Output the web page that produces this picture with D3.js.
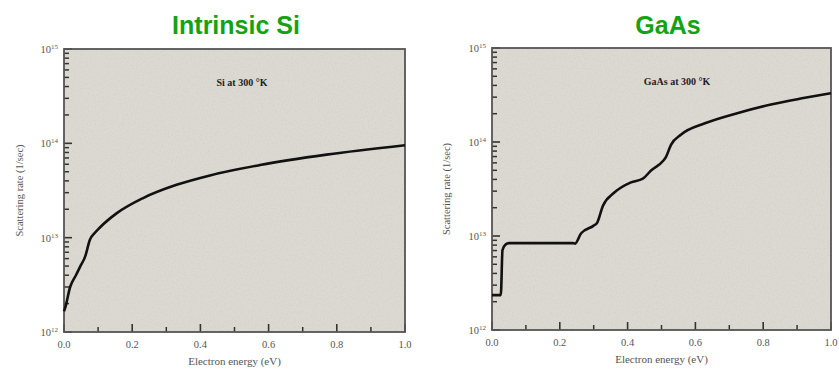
<!DOCTYPE html>
<html>
<head>
<meta charset="utf-8">
<script src="https://cdn.jsdelivr.net/npm/d3@7"></script>
<style>
  body { margin: 0; background: #fff; }
  svg { display: block; }
  .tick-label { font-family: "Liberation Serif", "DejaVu Serif", serif; fill: #555; }
  .title { font-family: "Liberation Sans", Arial, sans-serif; font-weight: bold; fill: #12a312; }
</style>
</head>
<body>
<div id="chart"></div>
<script>
// x axis (electron energy, eV)
const energyTicks = [0, 0.2, 0.4, 0.6, 0.8, 1.0];
const energyMinor = [0.1, 0.3, 0.5, 0.7, 0.9];
// y axis (scattering rate, 1/sec)
const rateTicks = [1e12, 1e13, 1e14, 1e15];
const rateExp = ["12", "13", "14", "15"];

// Si at 300 K
const siEnergy = [0, 0.003, 0.018, 0.035, 0.047, 0.062, 0.076, 0.09, 0.106, 0.155, 0.232, 0.33, 0.428, 0.575, 0.77, 1.0];
const siRate = [1.66e12, 1.78e12, 3.0e12, 4.0e12, 4.9e12, 6.3e12, 9.5e12, 1.12e13, 1.29e13, 1.82e13, 2.63e13, 3.63e13, 4.57e13, 5.89e13, 7.59e13, 9.55e13];

// GaAs at 300 K
const gaasEnergy = [0, 0.026, 0.031, 0.04, 0.05, 0.24, 0.245, 0.263, 0.30, 0.31, 0.327, 0.36, 0.41, 0.445, 0.47, 0.505, 0.513, 0.528, 0.558, 0.628, 0.726, 0.823, 0.923, 1.0];
const gaasRate = [2.35e12, 2.35e12, 7.1e12, 8.1e12, 8.4e12, 8.4e12, 8.3e12, 1.07e13, 1.29e13, 1.38e13, 2.09e13, 2.88e13, 3.72e13, 4.07e13, 5.01e13, 6.31e13, 6.92e13, 9.33e13, 1.2e14, 1.58e14, 2.04e14, 2.51e14, 2.95e14, 3.31e14];

const width = 839, height = 373;

const svg = d3.select('#chart').append('svg')
  .attr('width', width)
  .attr('height', height);

// grainy scanned look for plot areas
const defs = svg.append('defs');
const grain = defs.append('filter').attr('id', 'grain').attr('x', 0).attr('y', 0).attr('width', 1).attr('height', 1);
grain.append('feTurbulence').attr('type', 'fractalNoise').attr('baseFrequency', 0.6).attr('numOctaves', 2).attr('seed', 3).attr('result', 'noise');
grain.append('feColorMatrix').attr('in', 'noise').attr('type', 'matrix')
  .attr('values', '0 0 0 0 0.5  0 0 0 0 0.5  0 0 0 0 0.48  0.9 0 0 0 -0.4').attr('result', 'gn');
grain.append('feComposite').attr('in', 'gn').attr('in2', 'SourceGraphic').attr('operator', 'in');

const panels = [
  { title: 'Intrinsic Si', titleX: 236, label: 'Si at 300 °K', labelX: 242, labelY: 86,
    x0: 64, x1: 405, y0: 332, y1: 49, energy: siEnergy, rate: siRate, yTitleX: 19 },
  { title: 'GaAs', titleX: 668, label: 'GaAs at 300 °K', labelX: 677, labelY: 85,
    x0: 492, x1: 831, y0: 330, y1: 48, energy: gaasEnergy, rate: gaasRate, yTitleX: 446 }
];

panels.forEach(p => drawPanel(p));

function drawPanel(p) {
  const x = d3.scaleLinear().domain([0, 1]).range([p.x0, p.x1]);
  const y = d3.scaleLog().domain([1e12, 1e15]).range([p.y0, p.y1]);
  const g = svg.append('g');

  // title above the panel
  svg.append('text')
    .attr('class', 'title')
    .attr('x', p.titleX)
    .attr('y', 34)
    .attr('text-anchor', 'middle')
    .style('font-size', '25px')
    .text(p.title);

  // plot background
  g.append('rect')
    .attr('x', p.x0).attr('y', p.y1)
    .attr('width', p.x1 - p.x0).attr('height', p.y0 - p.y1)
    .attr('fill', '#dbd9d1');
  g.append('rect')
    .attr('x', p.x0).attr('y', p.y1)
    .attr('width', p.x1 - p.x0).attr('height', p.y0 - p.y1)
    .attr('fill', '#fff')
    .attr('filter', 'url(#grain)')
    .attr('opacity', 0.6);

  // minor log ticks on the left edge
  const minor = [];
  for (let d = 12; d < 15; d++) {
    for (let m = 2; m <= 9; m++) minor.push(m * Math.pow(10, d));
  }
  g.selectAll('.ymin').data(minor).enter().append('line')
    .attr('x1', p.x0).attr('x2', p.x0 + 5)
    .attr('y1', d => y(d)).attr('y2', d => y(d))
    .attr('stroke', '#333').attr('stroke-width', 1.5);
  g.selectAll('.ymaj').data(rateTicks).enter().append('line')
    .attr('x1', p.x0).attr('x2', p.x0 + 8)
    .attr('y1', d => y(d)).attr('y2', d => y(d))
    .attr('stroke', '#333').attr('stroke-width', 1.6);

  // x ticks pointing up from the bottom edge
  g.selectAll('.xmin').data(energyMinor).enter().append('line')
    .attr('x1', d => x(d)).attr('x2', d => x(d))
    .attr('y1', p.y0).attr('y2', p.y0 - 5)
    .attr('stroke', '#333').attr('stroke-width', 1.5);
  g.selectAll('.xmaj').data(energyTicks).enter().append('line')
    .attr('x1', d => x(d)).attr('x2', d => x(d))
    .attr('y1', p.y0).attr('y2', p.y0 - 8)
    .attr('stroke', '#333').attr('stroke-width', 1.6);

  // frame
  g.append('rect')
    .attr('x', p.x0).attr('y', p.y1)
    .attr('width', p.x1 - p.x0).attr('height', p.y0 - p.y1)
    .attr('fill', 'none')
    .attr('stroke', '#555').attr('stroke-width', 1.8);

  // y tick labels 10^n
  rateTicks.forEach((t, i) => {
    const lab = g.append('text')
      .attr('class', 'tick-label')
      .attr('x', p.x0 - 6)
      .attr('y', y(t) + 4)
      .attr('text-anchor', 'end')
      .style('font-size', '10.5px');
    lab.append('tspan').text('10');
    lab.append('tspan').attr('dy', -4).style('font-size', '7px').text(rateExp[i]);
  });

  // x tick labels
  g.selectAll('.xlab').data(energyTicks).enter().append('text')
    .attr('class', 'tick-label')
    .attr('x', d => x(d))
    .attr('y', p.y0 + 16)
    .attr('text-anchor', 'middle')
    .style('font-size', '10.5px')
    .text(d => d3.format('.1f')(d));

  // axis titles
  g.append('text')
    .attr('class', 'tick-label')
    .attr('x', (p.x0 + p.x1) / 2)
    .attr('y', p.y0 + 33)
    .attr('text-anchor', 'middle')
    .style('font-size', '11px')
    .text('Electron energy (eV)');

  const yMid = (p.y0 + p.y1) / 2;
  g.append('text')
    .attr('class', 'tick-label')
    .attr('transform', `translate(${p.yTitleX}, ${yMid}) rotate(-90)`)
    .attr('text-anchor', 'middle')
    .attr('dy', '0.35em')
    .style('font-size', '10.5px')
    .text('Scattering rate (1/sec)');

  // label inside the plot
  g.append('text')
    .attr('x', p.labelX)
    .attr('y', p.labelY)
    .attr('text-anchor', 'middle')
    .style('font-family', '"Liberation Serif", serif')
    .style('font-weight', 'bold')
    .style('font-size', '10px')
    .attr('fill', '#222')
    .text(p.label);

  // the curve
  const pts = p.energy.map((e, i) => [e, p.rate[i]]);
  const line = d3.line()
    .x(d => x(d[0]))
    .y(d => y(d[1]))
    .curve(d3.curveMonotoneX);
  g.append('path')
    .datum(pts)
    .attr('d', line)
    .attr('fill', 'none')
    .attr('stroke', '#111')
    .attr('stroke-width', 2.6)
    .attr('stroke-linejoin', 'round');
}
</script>
</body>
</html>
